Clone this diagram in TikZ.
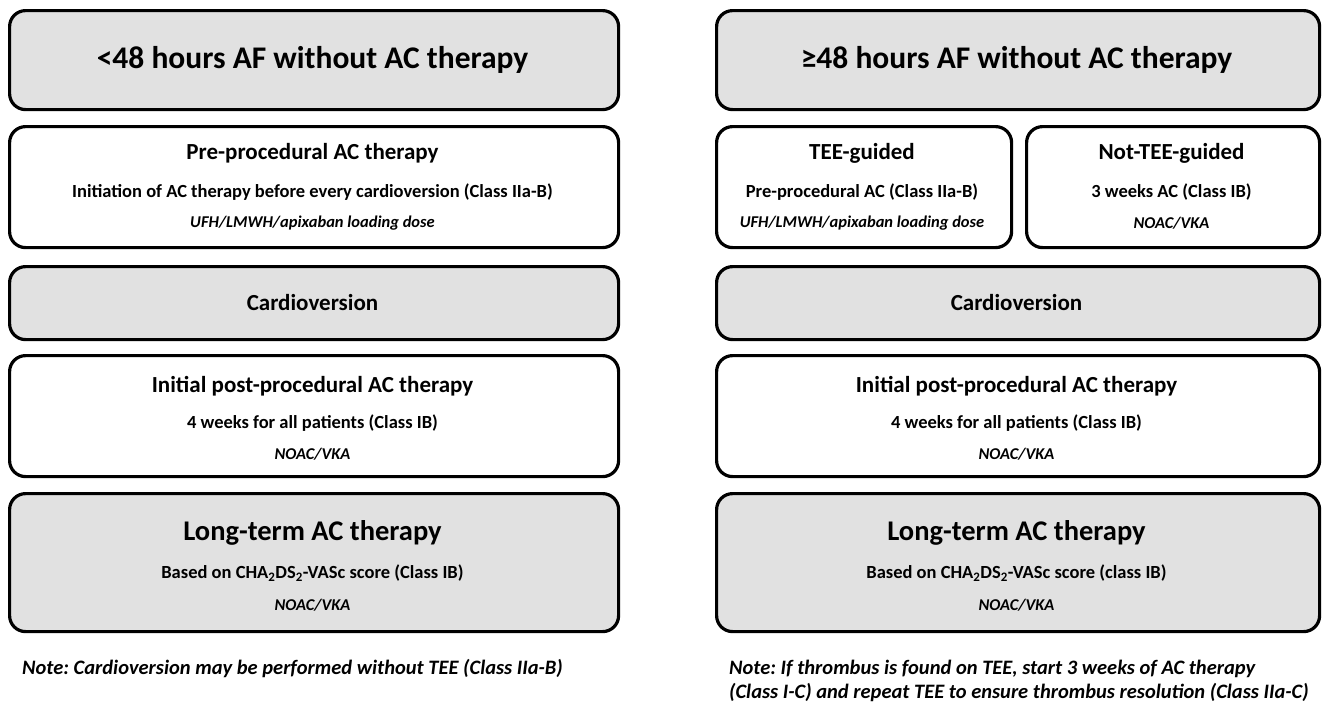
\documentclass[tikz,border=0pt]{standalone}
\usepackage{fontspec}
\setmainfont{Carlito}
\frenchspacing
\definecolor{boxgray}{HTML}{E1E1E1}
\begin{document}
\begin{tikzpicture}[x=1pt,y=1pt]
\tikzset{
  box/.style={draw=black, line width=3.2pt, rounded corners=16pt, inner sep=0pt, anchor=north west},
  graybox/.style={box, fill=boxgray},
  whitebox/.style={box, fill=white},
  tA/.style={font=\fontsize{31.5}{36}\selectfont\bfseries, inner sep=0pt},
  tB/.style={font=\fontsize{23}{27}\selectfont\bfseries, inner sep=0pt},
  tC/.style={font=\fontsize{18.5}{22}\selectfont\bfseries, inner sep=0pt},
  tD/.style={font=\fontsize{16.5}{20}\selectfont\bfseries\itshape, inner sep=0pt},
  tL/.style={font=\fontsize{28.5}{34}\selectfont\bfseries, inner sep=0pt},
  tN/.style={font=\fontsize{20.5}{24}\selectfont\bfseries\itshape, inner sep=0pt, anchor=west},
}
\useasboundingbox (0,0) rectangle (1323,-705);
\fill[white] (0,0) rectangle (1323,-705);

% ---------- left column ----------
\node[graybox, minimum width=609pt, minimum height=99pt] (L1) at (8,-9) {};
\node[tA] (L1a) at (312.5,-60) {<48 hours AF without AC therapy};

\node[whitebox, minimum width=609pt, minimum height=121pt] (L2) at (8,-125) {};
\node[tB] (L2a) at (312.5,-153) {Pre-procedural AC therapy};
\node[tC] (L2b) at (312.5,-192) {Initiation of AC therapy before every cardioversion (Class IIa-B)};
\node[tD] (L2c) at (312.5,-223) {UFH/LMWH/apixaban loading dose};

\node[graybox, minimum width=609pt, minimum height=73pt] (L3) at (8,-265) {};
\node[tB] (L3a) at (312.5,-303) {Cardioversion};

\node[whitebox, minimum width=609pt, minimum height=121pt] (L4) at (8,-354) {};
\node[tB] (L4a) at (312.5,-386) {Initial post-procedural AC therapy};
\node[tC] (L4b) at (312.5,-423) {4 weeks for all patients (Class IB)};
\node[tD] (L4c) at (312.5,-454) {NOAC/VKA};

\node[graybox, minimum width=609pt, minimum height=138pt] (L5) at (8,-492) {};
\node[tL] (L5a) at (312.5,-533) {Long-term AC therapy};
\node[tC] (L5b) at (312.5,-573) {Based on CHA\textsubscript{2}DS\textsubscript{2}-VASc score (Class IB)};
\node[tD] (L5c) at (312.5,-605) {NOAC/VKA};

\node[tN] (LN) at (22,-669) {Note: Cardioversion may be performed without TEE (Class IIa-B)};

% ---------- right column ----------
\node[graybox, minimum width=603pt, minimum height=99pt] (R1) at (715,-9) {};
\node[tA] (R1a) at (1016.5,-60) {≥48 hours AF without AC therapy};

\node[whitebox, minimum width=295pt, minimum height=121pt] (R2) at (715,-125) {};
\node[tB] (R2a) at (862,-153) {TEE-guided};
\node[tC] (R2b) at (862,-192) {Pre-procedural AC (Class IIa-B)};
\node[tD] (R2c) at (862,-223) {UFH/LMWH/apixaban loading dose};

\node[whitebox, minimum width=293pt, minimum height=121pt] (R2N) at (1025,-125) {};
\node[tB] (R2Na) at (1171.5,-153) {Not-TEE-guided};
\node[tC] (R2Nb) at (1171.5,-192) {3 weeks AC (Class IB)};
\node[tD] (R2Nc) at (1171.5,-223) {NOAC/VKA};

\node[graybox, minimum width=603pt, minimum height=73pt] (R3) at (715,-265) {};
\node[tB] (R3a) at (1016.5,-303) {Cardioversion};

\node[whitebox, minimum width=603pt, minimum height=121pt] (R4) at (715,-354) {};
\node[tB] (R4a) at (1016.5,-386) {Initial post-procedural AC therapy};
\node[tC] (R4b) at (1016.5,-423) {4 weeks for all patients (Class IB)};
\node[tD] (R4c) at (1016.5,-454) {NOAC/VKA};

\node[graybox, minimum width=603pt, minimum height=138pt] (R5) at (715,-492) {};
\node[tL] (R5a) at (1016.5,-533) {Long-term AC therapy};
\node[tC] (R5b) at (1016.5,-573) {Based on CHA\textsubscript{2}DS\textsubscript{2}-VASc score (class IB)};
\node[tD] (R5c) at (1016.5,-605) {NOAC/VKA};

\node[tN] (RN1) at (729,-669) {Note: If thrombus is found on TEE, start 3 weeks of AC therapy};
\node[tN] (RN2) at (729,-693) {(Class I-C) and repeat TEE to ensure thrombus resolution (Class IIa-C)};
\end{tikzpicture}
\end{document}
